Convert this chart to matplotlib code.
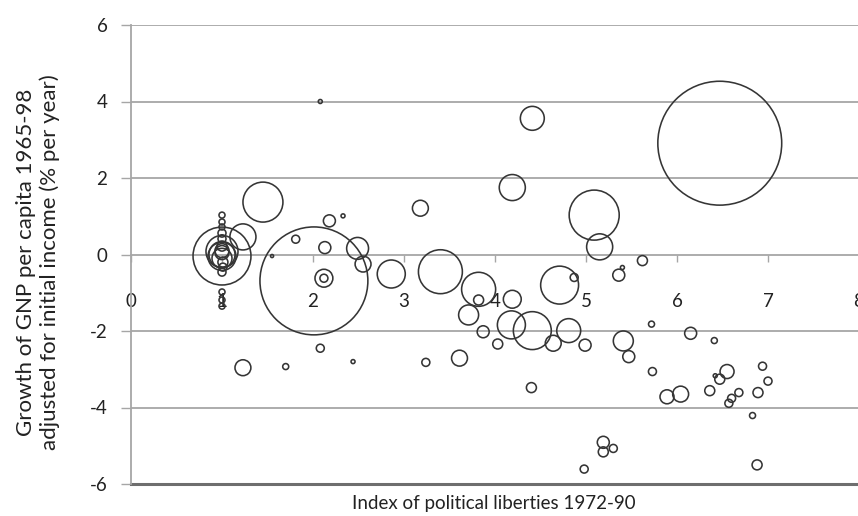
import numpy as np
import matplotlib
matplotlib.use("Agg")
import matplotlib.pyplot as plt

plt.rcParams['font.family'] = ['Lato', 'DejaVu Sans']
plt.rcParams['axes.unicode_minus'] = False

# political liberties index, growth (% per year), population (millions, sets bubble area)
liberties = [1.00, 1.00, 1.00, 1.00, 1.00, 1.00, 1.00, 1.00, 1.00, 1.00, 1.00, 1.00,
             1.00, 1.01, 1.01, 1.00, 1.00, 1.00, 1.00,
             1.23, 1.45, 1.55, 1.81, 2.18, 2.33, 2.13, 2.01, 2.12, 2.12, 2.49, 2.55,
             2.86, 3.18, 4.41, 4.19, 5.09, 5.15, 5.62, 5.36, 5.40, 3.40, 3.82, 3.82,
             4.19, 4.71, 4.87, 3.71, 3.87, 4.03, 4.18, 4.41, 4.64, 4.81, 4.99, 3.61,
             3.24, 4.40, 5.72, 6.15, 6.41, 5.41, 5.47, 5.73, 5.89, 6.04, 6.36, 6.55,
             6.47, 6.42, 6.68, 6.60, 6.57, 6.89, 6.94, 7.00, 6.83, 6.88, 5.19, 5.19,
             5.30, 4.98, 1.23, 1.70, 2.08, 2.44, 2.08, 6.47]
growth = [1.03, 0.85, 0.72, 0.56, 0.41, 0.22, 0.10, 0.08, -0.05, 0.00, -0.10, -0.04,
          0.05, -0.20, -0.33, -0.46, -0.98, -1.19, -1.35,
          0.46, 1.37, -0.04, 0.40, 0.88, 1.01, 0.18, -0.69, -0.62, -0.62, 0.16, -0.25,
          -0.51, 1.21, 3.56, 1.75, 1.03, 0.20, -0.16, -0.54, -0.34, -0.45, -0.91, -1.19,
          -1.17, -0.80, -0.60, -1.58, -2.02, -2.34, -1.84, -1.99, -2.32, -1.99, -2.37, -2.71,
          -2.82, -3.48, -1.82, -2.06, -2.25, -2.26, -2.67, -3.06, -3.72, -3.65, -3.56, -3.06,
          -3.26, -3.17, -3.61, -3.76, -3.89, -3.61, -2.92, -3.31, -4.21, -5.50, -4.91, -5.16,
          -5.07, -5.61, -2.96, -2.93, -2.45, -2.80, 4.00, 2.91]
population = [2.7, 2.7, 2.7, 4.8, 4.8, 7.5, 14.7, 77, 59, 51, 30, 252,
              14.7, 7.5, 4.8, 4.8, 2.7, 2.7, 2.7,
              51, 120, 0.7, 4.8, 10.8, 1.2, 10.8, 875, 24, 4.8, 36, 19,
              59, 19, 43, 51, 188, 51, 7.5, 10.8, 1.2, 145, 87, 7.5,
              24, 108, 4.8, 30, 10.8, 7.5, 59, 108, 19, 43, 10.8, 19,
              4.8, 7.5, 2.7, 10.8, 2.7, 30, 10.8, 4.8, 14.7, 19, 7.5, 14.7,
              7.5, 1.2, 4.8, 4.8, 4.8, 7.5, 4.8, 4.8, 2.7, 7.5, 10.8, 7.5,
              4.8, 4.8, 19, 2.7, 4.8, 1.2, 1.2, 1153]

x_ticks = list(range(0, 9))
y_ticks = list(range(-6, 7, 2))

fig = plt.figure(figsize=(8.58, 5.16), dpi=100)
ax = fig.add_axes([131 / 858, 32 / 516, 728 / 858, 459 / 516])

grid_col = '#a6a6a6'
for yv in y_ticks:
    if yv != 0 and yv != -6:
        ax.axhline(yv, color=grid_col, lw=1.3, zorder=1)

sizes = np.array(population) * 6.9
ax.scatter(liberties, growth, s=sizes, facecolors='none', edgecolors='#353535',
           linewidths=1.15, zorder=3, clip_on=False)

ax.set_xlim(0, 8)
ax.set_ylim(-6, 6)

for side in ['top', 'right']:
    ax.spines[side].set_visible(False)
ax.spines['bottom'].set_position(('data', 0))
ax.spines['bottom'].set_color(grid_col)
ax.spines['bottom'].set_linewidth(1.3)
ax.spines['left'].set_color(grid_col)
ax.spines['left'].set_linewidth(1.3)
ax.axhline(-6, color='#6e6e6e', lw=2.2, zorder=2, clip_on=False)

ax.set_xticks(x_ticks)
ax.set_yticks(y_ticks)
ax.tick_params(axis='x', direction='out', length=5, width=1, color=grid_col,
               pad=23, labelsize=13.5, labelcolor='#222222')
ax.tick_params(axis='y', direction='out', length=7, width=1, color=grid_col,
               pad=10, labelsize=13.5, labelcolor='#222222')

fig.text(38 / 858, 1 - 262 / 516,
         'Growth of GNP per capita 1965-98\nadjusted for initial income (% per year)',
         rotation=90, ha='center', va='center', fontsize=16, color='#222222',
         linespacing=1.15, multialignment='center')
fig.text(494 / 858, 1 - 503 / 516, 'Index of political liberties 1972-90',
         ha='center', va='center', fontsize=13.5, color='#222222')

fig.savefig('out.png', dpi=100)
